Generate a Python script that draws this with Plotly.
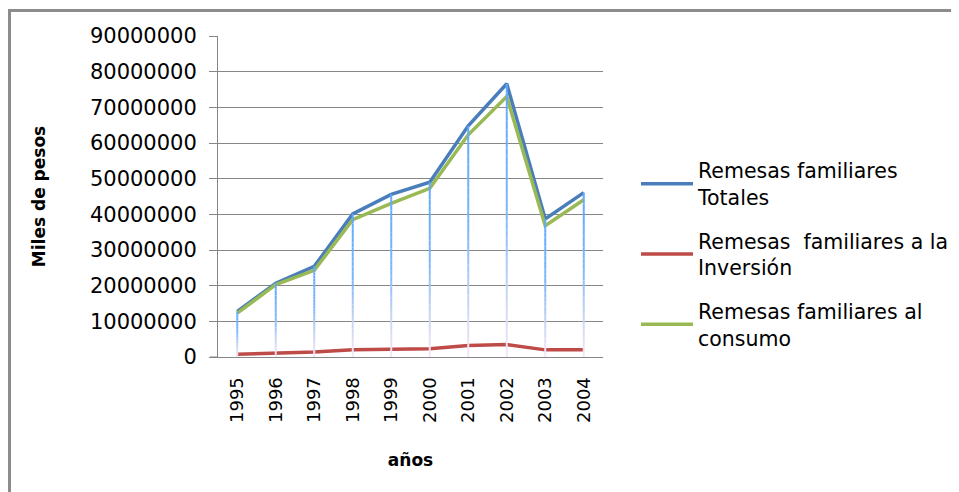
import plotly.graph_objects as go

YEARS = ["1995", "1996", "1997", "1998", "1999", "2000", "2001", "2002", "2003", "2004"]
TOTALES = [12800000, 20700000, 25400000, 40100000, 45600000, 49000000, 64800000, 76600000, 38700000, 46100000]
INVERSION = [800000, 1100000, 1400000, 2000000, 2200000, 2300000, 3200000, 3500000, 2000000, 2000000]
CONSUMO = [12300000, 20300000, 24300000, 38500000, 43100000, 47300000, 62300000, 73000000, 36800000, 44100000]

SERIES = [
    ("Remesas familiares<br>Totales", TOTALES, "#4a7ebb"),
    ("Remesas  familiares a la<br>Inversión", INVERSION, "#be4b48"),
    ("Remesas familiares al<br>consumo", CONSUMO, "#98b954"),
]

# gradient stops for the drop lines (top -> bottom)
DROP_STOPS = [(0.0, (94, 168, 255)), (0.45, (122, 182, 250)), (0.75, (196, 212, 242)), (1.0, (248, 230, 248))]
DROP_SEGMENTS = 30

# page offset of the figure (browser body margin)
OFF = 8
W, H = 959 - OFF, 492 - OFF
PLOT_L, PLOT_R, PLOT_T, PLOT_B = 218 - OFF, 603 - OFF, 36 - OFF, 357 - OFF


def drop_color(frac):
    for (f0, c0), (f1, c1) in zip(DROP_STOPS[:-1], DROP_STOPS[1:]):
        if f0 <= frac <= f1:
            t = (frac - f0) / (f1 - f0)
            rgb = [round(a + (b - a) * t) for a, b in zip(c0, c1)]
            return f"rgb({rgb[0]},{rgb[1]},{rgb[2]})"
    return "rgb(248,230,248)"


def px_to_paper_x(px):
    return (px - OFF - PLOT_L) / (PLOT_R - PLOT_L)


def px_to_paper_y(py):
    return (PLOT_B - (py - OFF)) / (PLOT_B - PLOT_T)


fig = go.Figure()

for i, (name, values, color) in enumerate(SERIES):
    fig.add_trace(
        go.Scatter(
            x=YEARS,
            y=values,
            mode="lines",
            name=name,
            legendgroup=f"g{i}",
            line=dict(color=color, width=3.5),
        )
    )

# drop lines, from the highest series value down to the axis
tops = [max(vals) for vals in zip(TOTALES, INVERSION, CONSUMO)]
for k in range(DROP_SEGMENTS):
    f0 = k / DROP_SEGMENTS
    f1 = (k + 1) / DROP_SEGMENTS
    xs, ys = [], []
    for year, top in zip(YEARS, tops):
        xs += [year, year, None]
        ys += [top * (1 - f0), top * (1 - f1), None]
    fig.add_trace(
        go.Scatter(
            x=xs,
            y=ys,
            mode="lines",
            line=dict(color=drop_color((f0 + f1) / 2), width=2),
            showlegend=False,
            hoverinfo="skip",
        )
    )

# outer chart frame
fig.add_shape(
    type="rect",
    xref="paper",
    yref="paper",
    x0=px_to_paper_x(9.5),
    x1=px_to_paper_x(1000),
    y0=px_to_paper_y(540),
    y1=px_to_paper_y(10.5),
    line=dict(color="#8c8c8c", width=3),
)
# category axis line runs a little past the value axis
fig.add_shape(
    type="line",
    xref="paper",
    yref="paper",
    x0=px_to_paper_x(210),
    x1=0,
    y0=0,
    y1=0,
    line=dict(color="#868686", width=1),
)

fig.update_xaxes(
    type="category",
    range=[-0.5, len(YEARS) - 0.5],
    tickangle=-90,
    tickfont=dict(family="DejaVu Sans", size=18, color="#000000"),
    showline=True,
    linecolor="#868686",
    linewidth=1,
    showgrid=False,
    ticks="",
    ticklabelstandoff=12,
    title=dict(text="<b>años</b>", font=dict(family="DejaVu Sans", size=17, color="#000000"), standoff=32),
)
fig.update_yaxes(
    range=[0, 90000000],
    dtick=10000000,
    tickformat="d",
    tickfont=dict(family="DejaVu Sans", size=21, color="#000000"),
    showline=True,
    linecolor="#868686",
    linewidth=1,
    gridcolor="#868686",
    gridwidth=1,
    ticks="outside",
    ticklen=8,
    tickcolor="#868686",
    ticklabelstandoff=8,
    zeroline=False,
    title=dict(text="<b>Miles de pesos</b>", font=dict(family="DejaVu Sans", size=17, color="#000000"), standoff=39),
)
fig.update_layout(
    width=W,
    height=H,
    margin=dict(l=PLOT_L, r=W - PLOT_R, t=PLOT_T, b=H - PLOT_B, autoexpand=False),
    plot_bgcolor="#ffffff",
    paper_bgcolor="#ffffff",
    showlegend=True,
    legend=dict(
        x=px_to_paper_x(636),
        xanchor="left",
        y=px_to_paper_y(254),
        yanchor="middle",
        font=dict(family="DejaVu Sans", size=20.5, color="#000000"),
        itemwidth=52,
        tracegroupgap=14,
        bgcolor="rgba(0,0,0,0)",
    ),
)

fig.write_html("out.html")
